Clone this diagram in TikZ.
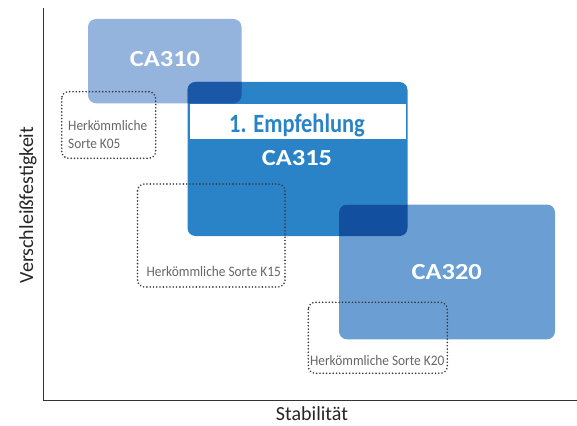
\documentclass[tikz,border=0pt]{standalone}
\usepackage{fontspec}
\setmainfont{Carlito}
\newfontfamily\prodfont[FakeStretch=1.15]{Carlito}
\newfontfamily\empfont[FakeStretch=0.85]{Carlito}
\newfontfamily\convfont[FakeStretch=0.92]{Carlito}
\definecolor{cAten}{HTML}{94B3DD}
\definecolor{cAfif}{HTML}{2A83C6}
\definecolor{cAtwe}{HTML}{6B9FD3}
\definecolor{ovA}{HTML}{1A57A6}
\definecolor{ovB}{HTML}{124F9F}
\definecolor{dotc}{HTML}{3A3A3A}
\definecolor{txtg}{HTML}{666666}
\definecolor{axc}{HTML}{333333}
\tikzset{
  prod/.style={rounded corners=8pt},
  conv/.style={draw=dotc, line width=1.8pt, dash pattern=on 0pt off 3.3pt, line cap=round, rounded corners=7pt},
  convtxt/.style={text=txtg, font=\convfont\fontsize{14.5}{18}\selectfont, inner sep=0pt, anchor=base},
  prodtxt/.style={text=white, font=\prodfont\bfseries\fontsize{23}{24}\selectfont, inner sep=0pt, anchor=base},
  axlab/.style={text=black!85, font=\fontsize{20}{22}\selectfont, inner sep=0pt}
}
\begin{document}
\begin{tikzpicture}[x=1pt,y=-1pt]
\useasboundingbox (0,0) rectangle (577,425);
% product boxes
\fill[cAten,prod] (88,19) rectangle (241.5,103.3);
\fill[cAfif,prod] (187.5,82) rectangle (407.5,236);
\fill[cAtwe,prod] (339,204.5) rectangle (555,339.3);
% overlaps
\begin{scope}
  \clip[prod] (88,19) rectangle (241.5,103.3);
  \fill[ovA,prod] (187.5,82) rectangle (407.5,236);
\end{scope}
\begin{scope}
  \clip[prod] (339,204.5) rectangle (555,339.3);
  \fill[ovB,prod] (187.5,82) rectangle (407.5,236);
\end{scope}
% white band
\fill[white] (190,104) rectangle (405.5,139.3);
\node[text=cAfif, font=\empfont\bfseries\fontsize{26.4}{28}\selectfont, inner sep=0pt, anchor=base] (emp) at (297,132.3) {1. Empfehlung};
\node[prodtxt] (ca310) at (165,67) {CA310};
\node[prodtxt] (ca315) at (297,165.7) {CA315};
\node[prodtxt] (ca320) at (446.7,279.3) {CA320};
% conventional grades
\draw[conv] (61.7,91.7) rectangle (155.7,158.3);
\node[convtxt, anchor=base west] (k05a) at (68,130) {Herkömmliche};
\node[convtxt, anchor=base west] (k05b) at (68,148.3) {Sorte K05};
\draw[conv] (137.5,184) rectangle (285,287);
\node[convtxt] (k15) at (213.7,276) {Herkömmliche Sorte K15};
\draw[conv] (308.3,302.3) rectangle (447.3,373.3);
\node[convtxt] (k20) at (377.2,365) {Herkömmliche Sorte K20};
% axes
\coordinate (top) at (43.5,8);
\coordinate (orig) at (43.5,400);
\coordinate (right) at (577,400);
\draw[axc, line width=1pt] (top) -- (orig) -- (right);
\node[axlab, anchor=base] (xl) at (312,420.5) {Stabilität};
\node[axlab, rotate=90, anchor=base] (yl) at (33,205) {Verschleißfestigkeit};
\end{tikzpicture}
\end{document}
